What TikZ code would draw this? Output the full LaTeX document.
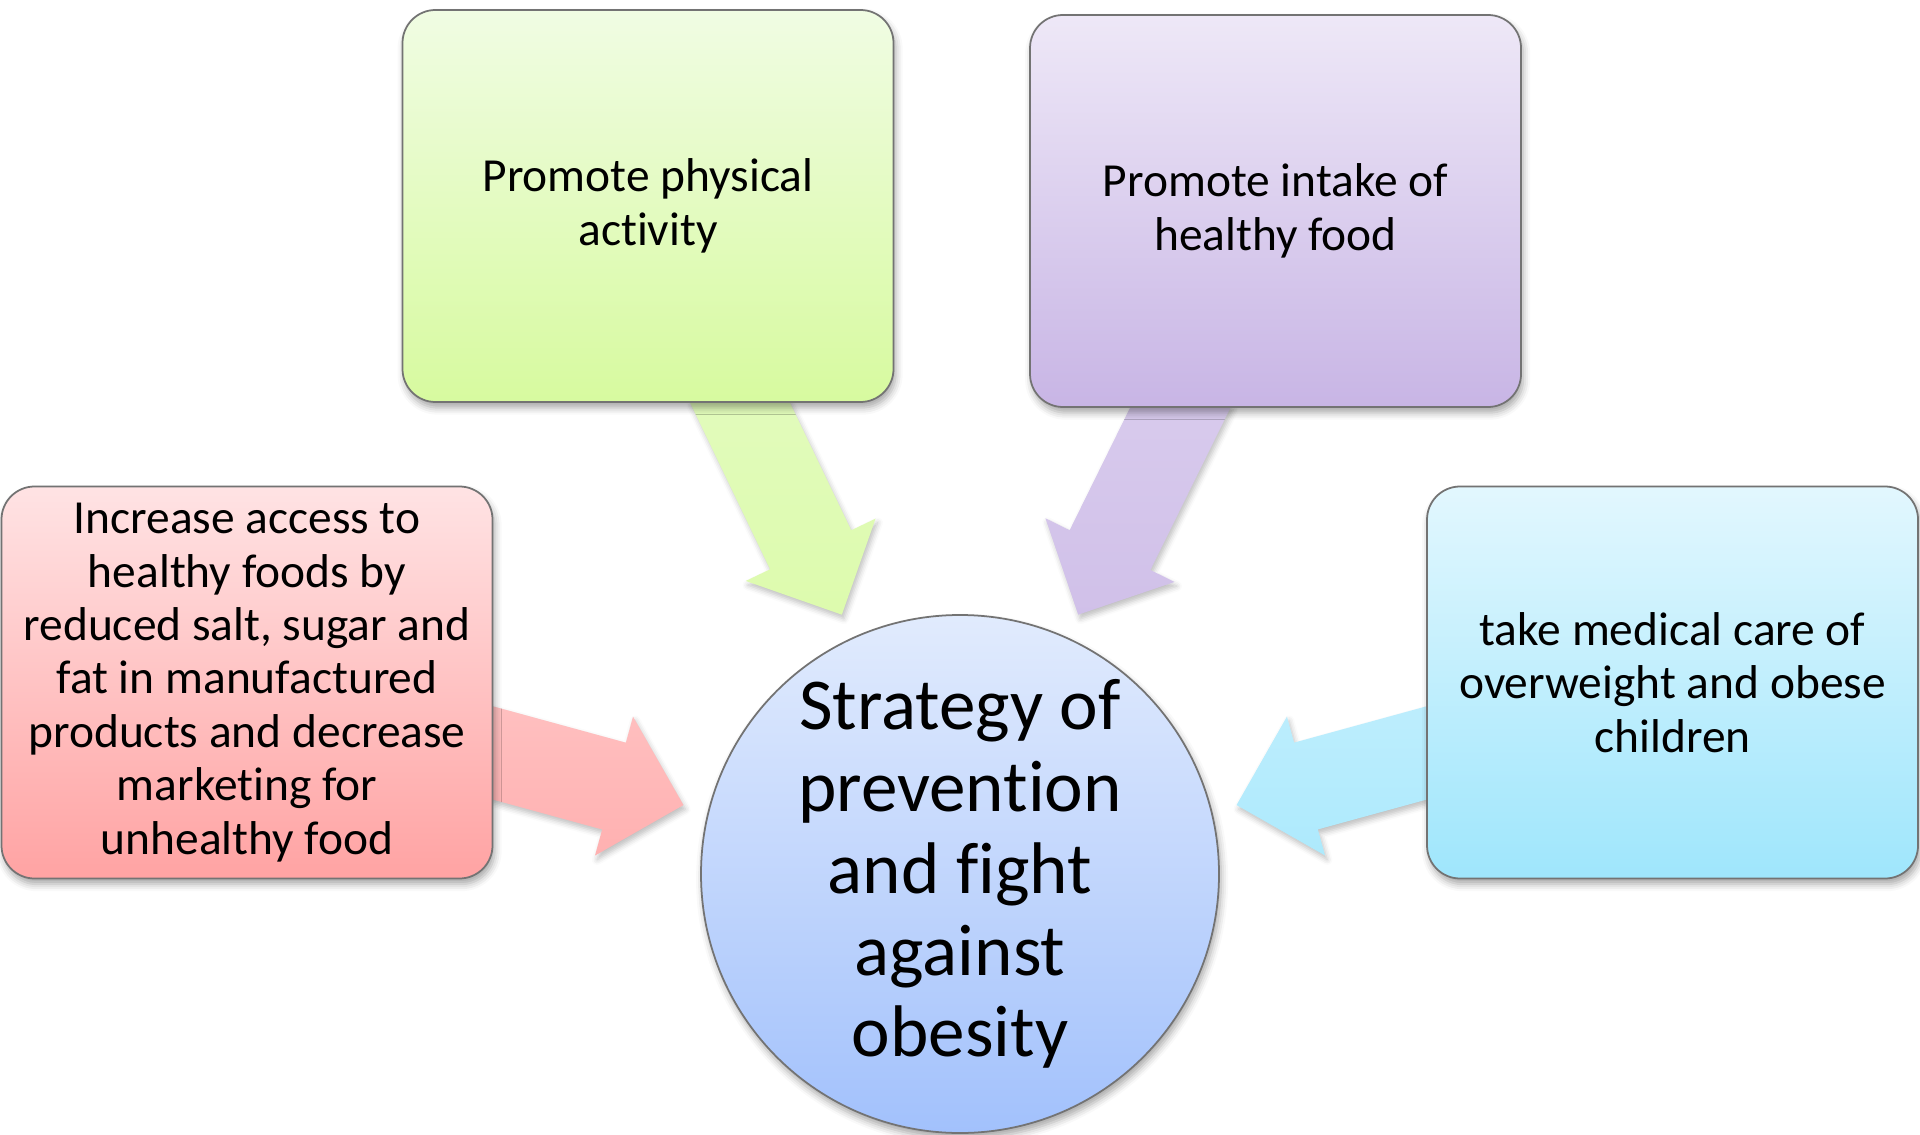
\documentclass[tikz,border=0pt]{standalone}
\usepackage{fontspec}
\setmainfont{Carlito}[Ligatures={NoCommon,NoContextual}]
\usetikzlibrary{calc}
\usetikzlibrary{positioning}
\usetikzlibrary{backgrounds}
\usetikzlibrary{shadows.blur}

\definecolor{greenA}{HTML}{F0FCE3}
\definecolor{greenB}{HTML}{D7FA9F}
\definecolor{purpleA}{HTML}{EEE8F7}
\definecolor{purpleB}{HTML}{C8B5E5}
\definecolor{redA}{HTML}{FFE3E4}
\definecolor{redB}{HTML}{FFA3A3}
\definecolor{blueA}{HTML}{E2F7FE}
\definecolor{blueB}{HTML}{9FE6FC}
\definecolor{circA}{HTML}{E1EBFD}
\definecolor{circB}{HTML}{A2C1FC}

\begin{document}
\begin{tikzpicture}[
  box/.style={draw=black!55, line width=0.5pt, rectangle, rounded corners=0.33cm,
    minimum width=4.91cm, minimum height=3.92cm, align=center,
    font=\fontsize{13.5}{15.2}\selectfont,
    blur shadow={shadow xshift=0.6pt, shadow yshift=-1.6pt, shadow opacity=35, shadow blur radius=2pt}},
  goal/.style={draw=black!55, line width=0.5pt, circle, minimum size=5.18cm, inner sep=0pt,
    align=center, font=\fontsize{20.8}{23.3}\selectfont, top color=circA, bottom color=circB,
    blur shadow={shadow xshift=0.6pt, shadow yshift=-1.6pt, shadow opacity=35, shadow blur radius=2pt}},
  blockarrow/.style={draw=none,
    blur shadow={shadow xshift=0.6pt, shadow yshift=-1.2pt, shadow opacity=25, shadow blur radius=1.5pt}},
]

\useasboundingbox (0,0) rectangle (19.2,-11.35);

\node (physical) [box, top color=greenA, bottom color=greenB] at (6.48,-2.06) {Promote physical\\activity};
\node (intake) [box, top color=purpleA, bottom color=purpleB] at (12.755,-2.11) {Promote intake of\\healthy food};
\node (access) [box, top color=redA, bottom color=redB] at (2.47,-6.825)
  {Increase access to\\healthy foods by\\reduced salt, sugar and\\fat in manufactured\\products and decrease\\marketing for\\unhealthy food};
\node (care) [box, top color=blueA, bottom color=blueB] at (16.725,-6.825)
  {take medical care of\\overweight and obese\\children};

\node (goal) [goal] at (9.60,-8.74) {Strategy of\\prevention\\and fight\\against\\obesity};

% arrow ends
\coordinate (gs) at ($(physical.south)+(0.82,0.21)$);
\coordinate (ps) at ($(intake.south)+(-0.845,0.22)$);
\coordinate (rs) at ($(access.east)+(-0.24,-0.64)$);
\coordinate (bs) at ($(care.west)+(0.24,-0.64)$);
\coordinate (gt) at ($(goal.center)+(114.5:2.85)$);
\coordinate (pt) at ($(goal.center)+(65.5:2.85)$);
\coordinate (rt) at ($(goal.center)+(166:2.85)$);
\coordinate (bt) at ($(goal.center)+(14:2.85)$);

\begin{scope}[on background layer]
\foreach \sa/\ta/\col in {gs/gt/green, ps/pt/purple, rs/rt/red, bs/bt/blue} {
  \coordinate (n\sa) at ($(\ta)!0.72cm!(\sa)$);
  \path[blockarrow, top color=\col A!45!\col B, bottom color=\col B!85!white]
    ($(\sa)!0.45cm!90:(\ta)$) -- ($(n\sa)!0.45cm!90:(\ta)$) -- ($(n\sa)!0.72cm!90:(\ta)$)
    -- (\ta) -- ($(n\sa)!0.72cm!-90:(\ta)$) -- ($(n\sa)!0.45cm!-90:(\ta)$)
    -- ($(\sa)!0.45cm!-90:(\ta)$) -- cycle;
}
\end{scope}

\end{tikzpicture}
\end{document}
